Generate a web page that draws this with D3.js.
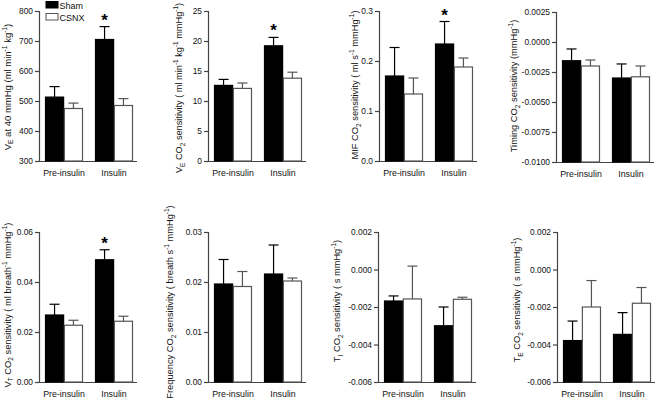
<!DOCTYPE html>
<html>
<head>
<meta charset="utf-8">
<script src="https://cdn.jsdelivr.net/npm/d3@7"></script>
<style>
  html, body { margin: 0; padding: 0; background: #fff; }
  svg { display: block; font-family: "Liberation Sans", Arial, sans-serif; }
</style>
</head>
<body>
<svg id="chart" width="659" height="400"></svg>
<script>
// ---- data ----
const categories = ["Pre-insulin", "Insulin"];
const groups = ["Sham", "CSNX"];

const veSham = [513, 705],          veShamErr = [35, 43];
const veCsnx = [475, 485],          veCsnxErr = [18, 23];

const veco2Sham = [12.6, 19.2],     veco2ShamErr = [1.0, 1.4];
const veco2Csnx = [12.1, 13.8],     veco2CsnxErr = [0.9, 1.0];

const mifSham = [0.170, 0.234],     mifShamErr = [0.057, 0.045];
const mifCsnx = [0.134, 0.188],     mifCsnxErr = [0.032, 0.018];

const timingSham = [-0.00156, -0.0030], timingShamErr = [0.00098, 0.00117];
const timingCsnx = [-0.0020, -0.0029],  timingCsnxErr = [0.0005, 0.0009];

const vtSham = [0.0268, 0.0489],    vtShamErr = [0.0043, 0.0040];
const vtCsnx = [0.0227, 0.0243],    vtCsnxErr = [0.0020, 0.0020];

const freqSham = [0.0196, 0.0216],  freqShamErr = [0.0049, 0.0058];
const freqCsnx = [0.0191, 0.0202],  freqCsnxErr = [0.0030, 0.0006];

const tiSham = [-0.00168, -0.0030], tiShamErr = [0.00027, 0.0010];
const tiCsnx = [-0.00157, -0.00159], tiCsnxErr = [0.00175, 0.00011];

const teSham = [-0.00379, -0.00346], teShamErr = [0.00104, 0.00116];
const teCsnx = [-0.0020, -0.0018],   teCsnxErr = [0.00141, 0.00084];

// y-axis tick values
const ticksVe = [300, 400, 500, 600, 700, 800];
const ticksVeco2 = [0, 5, 10, 15, 20, 25];
const ticksMif = [0.0, 0.1, 0.2, 0.3];
const ticksTiming = [0.0025, 0.0, -0.0025, -0.005, -0.0075, -0.01];
const ticksVt = [0.00, 0.02, 0.04, 0.06];
const ticksFreq = [0.00, 0.01, 0.02, 0.03];
const ticksTi = [0.002, 0.000, -0.002, -0.004, -0.006];
const ticksTe = [0.002, 0.000, -0.002, -0.004, -0.006];

// significance markers (per category, Sham bar)
const starsVe = [false, true];
const starsVeco2 = [false, true];
const starsMif = [false, true];
const starsVt = [false, true];
const starsNone = [false, false];

// y labels: segments [text, kind]
const labelVe = [["V",""],["E","sub"],[" at 40 mmHg (ml min",""],["-1","sup"],[" kg",""],["-1","sup"],[")",""]];
const labelVeco2 = [["V",""],["E","sub"],[" CO",""],["2","sub"],[" sensitivity ( ml min",""],["-1","sup"],[" kg",""],["-1","sup"],["  mmHg",""],["-1","sup"],[")",""]];
const labelMif = [["MIF CO",""],["2","sub"],[" sensitivity ( ml s",""],["-1","sup"],["  mmHg",""],["-1","sup"],[")",""]];
const labelTiming = [["Timing CO",""],["2","sub"],[" sensitivity (mmHg",""],["-1","sup"],[")",""]];
const labelVt = [["V",""],["T","sub"],[" CO",""],["2","sub"],[" sensitivity ( ml breath",""],["-1","sup"],["  mmHg",""],["-1","sup"],[")",""]];
const labelFreq = [["Frequency CO",""],["2","sub"],[" sensitivity ( breath s",""],["-1","sup"],["  mmHg",""],["-1","sup"],[")",""]];
const labelTi = [["T",""],["I","sub"],[" CO",""],["2","sub"],[" sensitivity ( s mmHg",""],["-1","sup"],[")",""]];
const labelTe = [["T",""],["E","sub"],[" CO",""],["2","sub"],[" sensitivity ( s mmHg",""],["-1","sup"],[")",""]];

// ---- panels (layout separate from data) ----
const panels = [
  {L:39,  top:11,  bot:161, sham:veSham, shamErr:veShamErr, csnx:veCsnx, csnxErr:veCsnxErr, ticks:ticksVe, fmt:d=>d.toFixed(0), stars:starsVe, label:labelVe, lx:10.5, ly:87, lfs:9.5, legend:true},
  {L:208, top:11,  bot:161, sham:veco2Sham, shamErr:veco2ShamErr, csnx:veco2Csnx, csnxErr:veco2CsnxErr, ticks:ticksVeco2, fmt:d=>d.toFixed(0), stars:starsVeco2, label:labelVeco2, lx:182, ly:88, lfs:9.2},
  {L:379, top:11,  bot:161, sham:mifSham, shamErr:mifShamErr, csnx:mifCsnx, csnxErr:mifCsnxErr, ticks:ticksMif, fmt:d=>d.toFixed(1), stars:starsMif, label:labelMif, lx:358, ly:85, lfs:9.3},
  {L:556, top:12,  bot:162, sham:timingSham, shamErr:timingShamErr, csnx:timingCsnx, csnxErr:timingCsnxErr, ticks:ticksTiming, fmt:d=>d.toFixed(4), stars:starsNone, label:labelTiming, lx:517, ly:86, lfs:9.3},
  {L:39,  top:232, bot:382, sham:vtSham, shamErr:vtShamErr, csnx:vtCsnx, csnxErr:vtCsnxErr, ticks:ticksVt, fmt:d=>d.toFixed(2), stars:starsVt, label:labelVt, lx:10.5, ly:305, lfs:9.3},
  {L:208, top:232, bot:382, sham:freqSham, shamErr:freqShamErr, csnx:freqCsnx, csnxErr:freqCsnxErr, ticks:ticksFreq, fmt:d=>d.toFixed(2), stars:starsNone, label:labelFreq, lx:173, ly:302, lfs:9.3},
  {L:378, top:232, bot:382, sham:tiSham, shamErr:tiShamErr, csnx:tiCsnx, csnxErr:tiCsnxErr, ticks:ticksTi, fmt:d=>d.toFixed(3), stars:starsNone, label:labelTi, lx:340, ly:301, lfs:9.3},
  {L:557, top:232, bot:382, sham:teSham, shamErr:teShamErr, csnx:teCsnx, csnxErr:teCsnxErr, ticks:ticksTe, fmt:d=>d.toFixed(3), stars:starsNone, label:labelTe, lx:520, ly:300, lfs:9.3}
];

const svg = d3.select("#chart");
const axisColor = "#444";
const fontStack = "'Liberation Sans', Arial, sans-serif";

panels.forEach(p => {
  const g = svg.append("g");
  const ext = d3.extent(p.ticks);
  const y = d3.scaleLinear().domain(ext).range([p.bot, p.top]);
  const x = d3.scaleBand().domain(categories).range([p.L, p.L + 100]).paddingInner(0.26).paddingOuter(0.13);
  const xs = d3.scaleBand().domain(groups).range([0, x.bandwidth()]).paddingInner(0.04);

  // y axis
  const yAxis = d3.axisLeft(y).tickValues(p.ticks).tickFormat(p.fmt).tickSize(4).tickPadding(2);
  const ya = g.append("g").attr("transform", `translate(${p.L},0)`).call(yAxis);
  ya.select(".domain").attr("stroke", axisColor).attr("stroke-width", 1.2);
  ya.selectAll(".tick line").attr("stroke", axisColor).attr("stroke-width", 1.2);
  ya.selectAll(".tick text").attr("fill", "#111").style("font-size", "8.4px").style("font-family", fontStack);

  // x axis (line only, no ticks)
  const xa = g.append("g").attr("transform", `translate(0,${p.bot})`)
    .call(d3.axisBottom(x).tickSize(0).tickPadding(9));
  xa.select(".domain").attr("stroke", axisColor).attr("stroke-width", 1.2)
    .attr("d", `M${p.L},0.5H${p.L + 98}`);
  xa.selectAll(".tick text").attr("fill", "#111").style("font-size", "8.8px").style("font-family", fontStack);

  // bars
  const base = y(ext[0]);
  const rows = [];
  categories.forEach((c, i) => {
    rows.push({cat:c, grp:"Sham", v:p.sham[i], e:p.shamErr[i], star:p.stars[i]});
    rows.push({cat:c, grp:"CSNX", v:p.csnx[i], e:p.csnxErr[i], star:false});
  });

  // error bars (behind bars)
  rows.forEach(r => {
    const cx = x(r.cat) + xs(r.grp) + xs.bandwidth() / 2;
    const col = r.grp === "Sham" ? "#000" : "#555";
    g.append("line").attr("x1", cx).attr("x2", cx)
      .attr("y1", y(r.v)).attr("y2", y(r.v + r.e))
      .attr("stroke", col).attr("stroke-width", 1.2);
    g.append("line").attr("x1", cx - 5).attr("x2", cx + 5)
      .attr("y1", y(r.v + r.e)).attr("y2", y(r.v + r.e))
      .attr("stroke", col).attr("stroke-width", 1.2);
    if (r.star) {
      g.append("text").attr("x", cx).attr("y", y(r.v + r.e) - 1)
        .attr("text-anchor", "middle").style("font-size", "17px").style("font-weight", "bold")
        .attr("fill", "#000").text("*");
    }
  });

  g.selectAll("rect.bar").data(rows).join("rect").attr("class", "bar")
    .attr("x", d => x(d.cat) + xs(d.grp))
    .attr("width", xs.bandwidth())
    .attr("y", d => y(d.v))
    .attr("height", d => base - y(d.v))
    .attr("fill", d => d.grp === "Sham" ? "#000" : "#fff")
    .attr("stroke", d => d.grp === "Sham" ? "#000" : "#555")
    .attr("stroke-width", 1.2);

  // y label
  const t = g.append("text")
    .attr("transform", `translate(${p.lx},${p.ly}) rotate(-90)`)
    .attr("text-anchor", "middle")
    .attr("fill", "#111")
    .style("font-size", p.lfs + "px");
  let shift = 0;
  p.label.forEach(([s, kind]) => {
    const target = kind === "sub" ? 2.5 : kind === "sup" ? -4 : 0;
    const ts = t.append("tspan").text(s).attr("dy", target - shift);
    if (kind) ts.style("font-size", (p.lfs * 0.7) + "px");
    shift = target;
  });

  // legend
  if (p.legend) {
    const lg = svg.append("g");
    const items = [{name:"Sham", fill:"#000", stroke:"#000"}, {name:"CSNX", fill:"#fff", stroke:"#555"}];
    items.forEach((it, i) => {
      lg.append("rect").attr("x", 46).attr("y", 1.5 + i * 12).attr("width", 12).attr("height", 6.5)
        .attr("fill", it.fill).attr("stroke", it.stroke).attr("stroke-width", 1);
      lg.append("text").attr("x", 59.5).attr("y", 9 + i * 12).attr("fill", "#111")
        .style("font-size", "9px").text(it.name);
    });
  }
});
</script>
</body>
</html>
